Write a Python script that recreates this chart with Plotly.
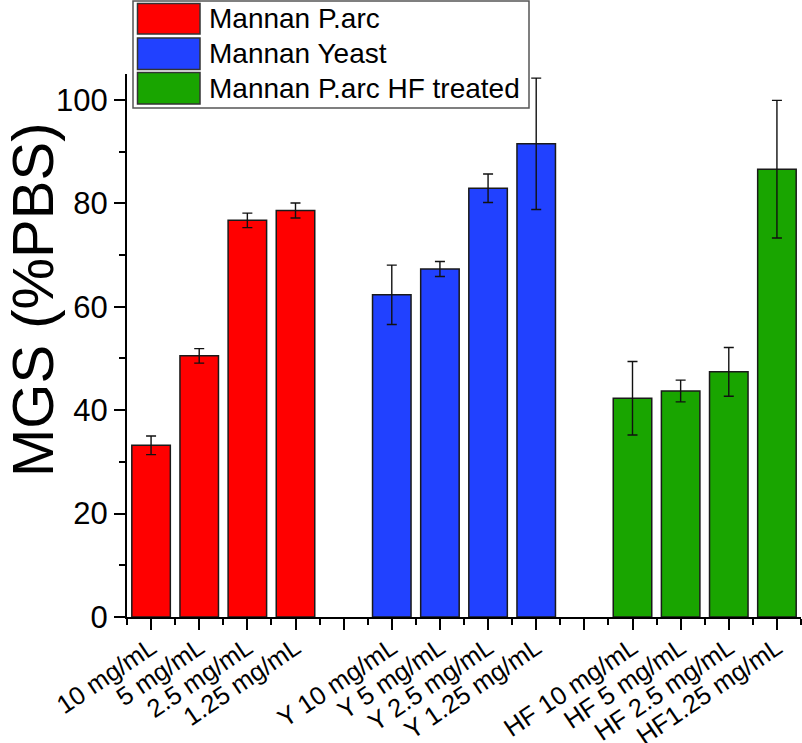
import plotly.graph_objects as go

# ---- data ----
group_names = ["Mannan P.arc", "Mannan Yeast", "Mannan P.arc HF treated"]
group_colors = ["#FF0000", "#2141FF", "#19A500"]
labels_parc = ["10 mg/mL", "5 mg/mL", "2.5 mg/mL", "1.25 mg/mL"]
labels_yeast = ["Y 10 mg/mL", "Y 5 mg/mL", "Y 2.5 mg/mL", "Y 1.25 mg/mL"]
labels_hf = ["HF 10 mg/mL", "HF 5 mg/mL", "HF 2.5 mg/mL", "HF1.25 mg/mL"]
values_parc = [33.2, 50.5, 76.7, 78.6]
values_yeast = [62.3, 67.3, 82.9, 91.5]
values_hf = [42.3, 43.7, 47.4, 86.6]
err_parc = [1.8, 1.4, 1.4, 1.45]
err_yeast = [5.75, 1.45, 2.75, 12.7]
err_hf = [7.1, 2.1, 4.7, 13.3]
y_ticks = [0, 20, 40, 60, 80, 100]

groups = [
    (labels_parc, values_parc, err_parc),
    (labels_yeast, values_yeast, err_yeast),
    (labels_hf, values_hf, err_hf),
]

# ---- layout geometry (pixels) ----
W, H = 802, 743
ML, MR, MT, MB = 127, 1, 74, 126
PW, PH = W - ML - MR, H - MT - MB


def px_x(px):
    return (px - ML) / PW


def px_y(py):
    return (H - MB - py) / PH


FONT = "Arial, Liberation Sans, sans-serif"

fig = go.Figure()
tickvals, ticktext = [], []
slot = 0
for gi, (labs, vals, errs) in enumerate(groups):
    xs = []
    for lab in labs:
        xs.append(slot)
        tickvals.append(slot)
        ticktext.append(lab)
        slot += 1
    fig.add_trace(go.Bar(
        x=xs, y=vals, width=0.8, name=group_names[gi],
        marker=dict(color=group_colors[gi], line=dict(color="#1a1a1a", width=1.5)),
        error_y=dict(type="data", array=errs, visible=True, color="#111111",
                     thickness=1.4, width=5),
        showlegend=False,
    ))
    if gi < len(groups) - 1:
        tickvals.append(slot)
        ticktext.append("")
        slot += 1

fig.update_layout(
    width=W, height=H,
    margin=dict(l=ML, r=MR, t=MT, b=MB),
    plot_bgcolor="white", paper_bgcolor="white",
    bargap=0.2,
    font=dict(family=FONT, color="black"),
    xaxis=dict(
        range=[-0.5, slot - 0.5],
        tickmode="array", tickvals=tickvals, ticktext=ticktext,
        tickangle=-34, tickfont=dict(size=25.5, family=FONT, color="black"),
        ticklabelstandoff=-7,
        ticks="outside", ticklen=11, tickwidth=2, tickcolor="black",
        minor=dict(ticks="outside", ticklen=6, tickwidth=2, tickcolor="black",
                   tick0=0.5, dtick=1),
        showline=True, linecolor="black", linewidth=2,
        showgrid=False, zeroline=False, automargin=False,
    ),
    yaxis=dict(
        range=[0, 105],
        tickmode="array", tickvals=y_ticks,
        tickfont=dict(size=31, family=FONT, color="black"),
        ticks="outside", ticklen=11, tickwidth=2, tickcolor="black",
        minor=dict(ticks="outside", ticklen=6, tickwidth=2, tickcolor="black",
                   tick0=0, dtick=10),
        showline=True, linecolor="black", linewidth=2,
        showgrid=False, zeroline=False, automargin=False,
    ),
)

# y-axis title
fig.add_annotation(
    text="MGS (%PBS)", xref="paper", yref="paper",
    x=px_x(32), y=px_y(300), textangle=-90, showarrow=False,
    font=dict(size=58, family=FONT, color="black"),
    xanchor="center", yanchor="middle",
)

# custom legend box with large swatches
fig.add_shape(type="rect", xref="paper", yref="paper",
              x0=px_x(133), x1=px_x(529), y0=px_y(108), y1=px_y(1),
              line=dict(color="#555555", width=1.5), fillcolor="white", layer="above")
rows = [(3.5, 34), (38, 69.5), (72.5, 104)]
for gi, (top, bot) in enumerate(rows):
    fig.add_shape(type="rect", xref="paper", yref="paper",
                  x0=px_x(137.5), x1=px_x(200), y0=px_y(bot), y1=px_y(top),
                  line=dict(color="#333333", width=1.5),
                  fillcolor=group_colors[gi], layer="above")
    fig.add_annotation(text=group_names[gi], xref="paper", yref="paper",
                       x=px_x(207), y=px_y((top + bot) / 2), showarrow=False,
                       xanchor="left", yanchor="middle",
                       font=dict(size=28, family=FONT, color="black"))

fig.write_html("out.html", config={"displayModeBar": False},
               post_script="document.body.style.margin='0';")
